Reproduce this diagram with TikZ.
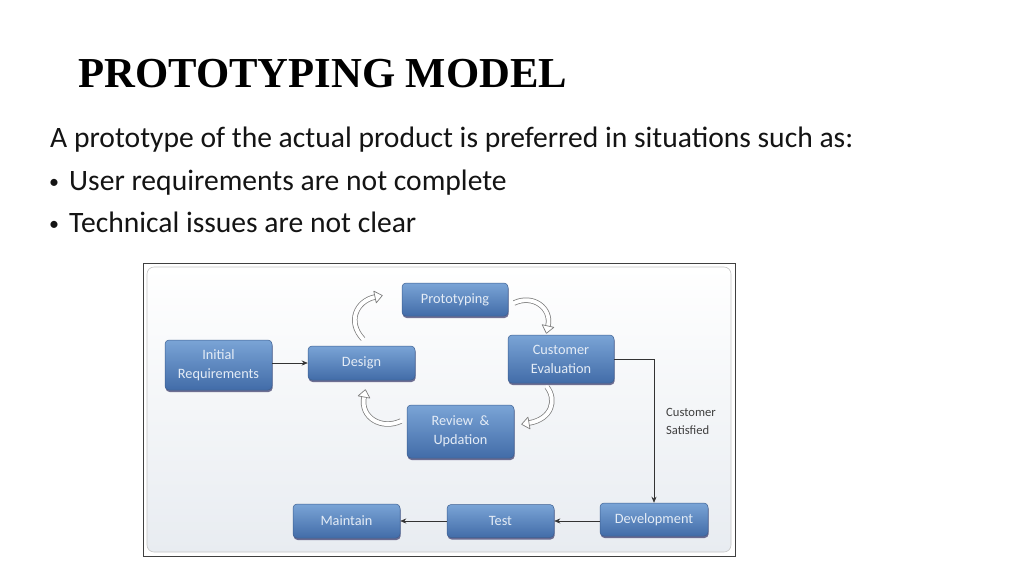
\documentclass[tikz,border=0pt]{standalone}
\usepackage{fontspec}
\setmainfont{Carlito}
\newfontfamily\titlefont{Liberation Serif}
\usetikzlibrary{arrows.meta,shadows,calc}
\definecolor{boxtop}{RGB}{122,164,214}
\definecolor{boxbot}{RGB}{66,108,168}
\definecolor{boxedge}{RGB}{60,95,145}
\definecolor{boxtext}{RGB}{228,236,246}
\definecolor{bgbot}{RGB}{232,236,241}
\definecolor{arrowgray}{RGB}{125,125,125}
\newcommand\hollowarrow[4]{%
  \path[hollowshaft] (#1) .. controls (#2) and (#3) .. (#4);
  \draw[hollowhead] ($(#4)!-7.5pt!(#3)$) -- ($(#4)!6pt!90:(#3)$) -- ($(#4)!6pt!-90:(#3)$) -- cycle;}
\begin{document}
\begin{tikzpicture}[x=1pt,y=-1pt,
  box/.style={rectangle, rounded corners=4pt, draw=boxedge, line width=0.5pt,
    top color=boxtop, bottom color=boxbot, text=boxtext, align=center,
    font=\fontsize{14.3}{19}\selectfont, inner sep=0pt,
    drop shadow={shadow xshift=0.6pt, shadow yshift=-2pt, fill=black!75!blue, opacity=0.55}},
  flow/.style={draw=black!80, line width=0.6pt, -{Stealth[length=6pt,width=5pt]}},
  hollowshaft/.style={line cap=round,
    preaction={draw=arrowgray, line width=5.4pt},
    postaction={draw=white, line width=3.9pt}},
  hollowhead/.style={draw=arrowgray, line width=0.7pt, fill=white, line join=round},
  bodytext/.style={anchor=base west, inner sep=0, text=black!92, font=\fontsize{29.6}{34}\selectfont}
]
\useasboundingbox (0,0) rectangle (1024,576);
\fill[white] (0,0) rectangle (1024,576);

% title and text
\node[anchor=base west, inner sep=0, font=\titlefont\bfseries\fontsize{42.7}{50}\selectfont] (title) at (78,87) {PROTOTYPING MODEL};
\node[bodytext] (intro) at (50,147) {A prototype of the actual product is preferred in situations such as:};
\node[bodytext, font=\fontsize{20}{24}\selectfont] (b1) at (49,188) {•};
\node[bodytext] (t1) at (69,190) {User requirements are not complete};
\node[bodytext, font=\fontsize{20}{24}\selectfont] (b2) at (49,230) {•};
\node[bodytext] (t2) at (69,232) {Technical issues are not clear};

% image frame
\draw[black!75, line width=0.8pt, fill=white] (143,263) rectangle (735,556);
\draw[gray!45, line width=0.6pt, rounded corners=7pt, top color=white, bottom color=bgbot] (147,267) rectangle (731,552);

% boxes
\node[box, minimum width=107pt, minimum height=50pt] (init) at (218.5,365) {Initial\\Requirements};
\node[box, minimum width=107pt, minimum height=34pt] (design) at (361.5,363) {Design};
\node[box, minimum width=106pt, minimum height=33pt] (proto) at (455,299.5) {Prototyping};
\node[box, minimum width=106pt, minimum height=48pt] (cust) at (561,359) {Customer\\Evaluation};
\node[box, minimum width=107pt, minimum height=53pt] (review) at (460.5,431.5) {Review \ \&\\Updation};
\node[box, minimum width=107pt, minimum height=34pt] (maint) at (346.5,521) {Maintain};
\node[box, minimum width=107pt, minimum height=33pt] (test) at (500.5,521) {Test};
\node[box, minimum width=108pt, minimum height=33pt] (dev) at (654,519.5) {Development};

% straight connectors
\draw[flow] (init.east |- design.west) -- (design.west);
\draw[flow] (cust.east) -| (dev.north);
\draw[flow] (dev.west |- test.east) -- (test.east);
\draw[flow] (test.west |- maint.east) -- (maint.east);
\node[anchor=north west, inner sep=0, align=left, text=black!75, font=\fontsize{12.6}{18}\selectfont] (sat) at (666,408) {Customer\\Satisfied};

% curved hollow arrows
\coordinate (c1s) at (363,339);
\coordinate (c1a) at (347,322);
\coordinate (c1b) at (356,301);
\coordinate (c1e) at (375,297);
\coordinate (c2s) at (514,303);
\coordinate (c2a) at (533,294);
\coordinate (c2b) at (552,308);
\coordinate (c2e) at (548,326);
\coordinate (c3s) at (547,387);
\coordinate (c3a) at (557,400);
\coordinate (c3b) at (552,419);
\coordinate (c3e) at (529,423);
\coordinate (c4s) at (401,421);
\coordinate (c4a) at (382,430);
\coordinate (c4b) at (360,418);
\coordinate (c4e) at (364,397);
\hollowarrow{c1s}{c1a}{c1b}{c1e}
\hollowarrow{c2s}{c2a}{c2b}{c2e}
\hollowarrow{c3s}{c3a}{c3b}{c3e}
\hollowarrow{c4s}{c4a}{c4b}{c4e}
\end{tikzpicture}
\end{document}
